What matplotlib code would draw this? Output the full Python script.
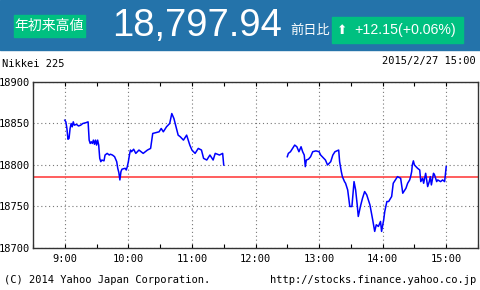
import matplotlib
matplotlib.use("Agg")
from matplotlib import pyplot as plt
from matplotlib.patches import Rectangle
import numpy as np

# minutes after 9:00 and index values
am_min = [0, 1, 2, 3, 4, 5, 6, 7, 8, 9, 11, 13, 15, 17, 20, 22, 23, 24, 25, 26, 27, 28, 29, 30,
          31, 32, 33, 34, 35, 37, 38, 40, 42, 43, 45, 47, 49, 50, 51, 52, 53, 54, 57, 58, 59,
          60, 61, 62, 63, 65, 67, 70, 74, 78, 81, 83, 89, 91, 93, 96, 99, 101, 103, 105, 107,
          109, 112, 115, 118, 120, 123, 126, 129, 131, 134, 137, 140, 142, 146, 149, 150]
am_val = [18854, 18852, 18844, 18831, 18832, 18844, 18850, 18846, 18852, 18848, 18849, 18847,
          18848, 18850, 18851, 18852, 18830, 18826, 18828, 18826, 18830, 18825, 18830, 18824,
          18830, 18824, 18808, 18804, 18806, 18805, 18812, 18814, 18812, 18813, 18812, 18810,
          18804, 18796, 18791, 18782, 18792, 18795, 18796, 18794, 18798, 18804, 18812, 18818,
          18816, 18819, 18814, 18818, 18814, 18818, 18820, 18838, 18840, 18844, 18840, 18846,
          18850, 18862, 18856, 18846, 18836, 18834, 18830, 18836, 18824, 18818, 18814, 18820,
          18818, 18808, 18806, 18812, 18806, 18814, 18812, 18814, 18800]

pm_min = [210, 211, 213, 215, 217, 219, 221, 223, 224.5, 226, 227, 228, 230, 232, 234, 237, 240,
          241.5, 243, 246, 248, 251, 253, 255, 258.5, 259.4, 261, 262, 264, 265, 267, 269, 271,
          273, 274.5, 276, 277, 279, 281, 283, 285, 288, 290.6, 292.5, 294, 296, 298, 299, 301,
          302, 304, 305.7, 306.6, 308.5, 310, 312, 314, 317, 319, 322, 323.6, 325.5, 326.4,
          327.4, 328, 329, 330, 333, 335, 336, 337.7, 338.7, 340.6, 342.5, 344, 345, 346, 348,
          349, 351, 352, 354.7, 356.6, 358.5, 360]
pm_val = [18810, 18814, 18816, 18820, 18824, 18822, 18816, 18822, 18816, 18812, 18798, 18806,
          18807, 18810, 18816, 18817, 18816, 18812, 18810, 18806, 18800, 18804, 18812, 18816,
          18818, 18804, 18792, 18786, 18780, 18778, 18770, 18750, 18750, 18780, 18770, 18752,
          18738, 18750, 18760, 18768, 18764, 18752, 18734, 18720, 18728, 18726, 18732, 18720,
          18734, 18744, 18756, 18756, 18758, 18762, 18778, 18782, 18786, 18784, 18766, 18772,
          18778, 18782, 18786, 18792, 18800, 18805, 18800, 18796, 18794, 18780, 18784, 18778,
          18790, 18774, 18780, 18786, 18776, 18790, 18788, 18780, 18782, 18780, 18782, 18780,
          18798]

prev_close = 18785.79
hour_labels = ["9:00", "10:00", "11:00", "12:00", "13:00", "14:00", "15:00"]
y_ticks = [18700, 18750, 18800, 18850, 18900]

mono = "DejaVu Sans Mono"
fig = plt.figure(figsize=(4.8, 2.9), dpi=100)
fig.patch.set_facecolor("white")

# header band
fig.patches.append(Rectangle((0, 240 / 290), 1, 50 / 290, transform=fig.transFigure,
                             color="#2473aa", zorder=0))
fig.patches.append(Rectangle((14 / 480, 1 - 37 / 290), 71 / 480, 22 / 290,
                             transform=fig.transFigure, color="#00c080", zorder=1))
fig.patches.append(Rectangle((332 / 480, 1 - 43 / 290), 131 / 480, 26 / 290,
                             transform=fig.transFigure, color="#00c080", zorder=1))
fig.text(49.5 / 480, 1 - 26 / 290, "年初来高値", color="white", fontsize=10,
         family=["Noto Sans CJK JP", "DejaVu Sans"], ha="center", va="center")
fig.text(112 / 480, 1 - 26 / 290, "18,797.94", color="white", fontsize=27.5,
         family="Liberation Sans", ha="left", va="center")
fig.text(290 / 480, 1 - 30 / 290, "前日比", color="white", fontsize=9.5,
         family=["Noto Sans CJK JP", "DejaVu Sans"], ha="left", va="center")
fig.text(342 / 480, 1 - 30 / 290, "⬆", color="white", fontsize=9,
         family="DejaVu Sans", ha="center", va="center")
fig.text(354 / 480, 1 - 30 / 290, "+12.15(+0.06%)", color="white", fontsize=10.2,
         family="Liberation Sans", ha="left", va="center")

fig.text(2 / 480, 1 - 64.5 / 290, "Nikkei 225", fontsize=7.5, family=mono,
         ha="left", va="center")
fig.text(476 / 480, 1 - 61 / 290, "2015/2/27 15:00", fontsize=7.5, family=mono,
         ha="right", va="center")
fig.text(4 / 480, 1 - 280 / 290, "(C) 2014 Yahoo Japan Corporation.", fontsize=7.5,
         family=mono, ha="left", va="center")
fig.text(476 / 480, 1 - 280 / 290, "http://stocks.finance.yahoo.co.jp", fontsize=7.5,
         family=mono, ha="right", va="center")

ax = fig.add_axes([33 / 480, 42 / 290, 445 / 480, 166 / 290])
ax.plot(am_min, am_val, color="#0000ff", lw=1.1, zorder=3)
ax.plot(pm_min, pm_val, color="#0000ff", lw=1.1, zorder=3)
ax.axhline(prev_close, color="#ff5050", lw=1.3, zorder=2)

ax.set_xlim(-30, 390)
ax.set_ylim(18700, 18900)
ax.set_xticks(np.arange(0, 361, 60))
ax.set_xticklabels(hour_labels)
ax.set_xticks(np.arange(-30, 391, 30), minor=True)
ax.set_yticks(y_ticks)
ax.grid(True, which="major", color="#777777", linestyle=(0, (1, 2.5)), lw=0.8)
ax.tick_params(axis="x", which="both", direction="in", top=True, length=3,
               width=0.8, labelsize=7.5, pad=4)
ax.tick_params(axis="y", which="both", direction="in", length=0, labelsize=7.5, pad=2)
for lab in ax.get_xticklabels() + ax.get_yticklabels():
    lab.set_family(mono)
for s in ax.spines.values():
    s.set_color("#333333")
    s.set_linewidth(1)

fig.savefig("out.png", dpi=100)
